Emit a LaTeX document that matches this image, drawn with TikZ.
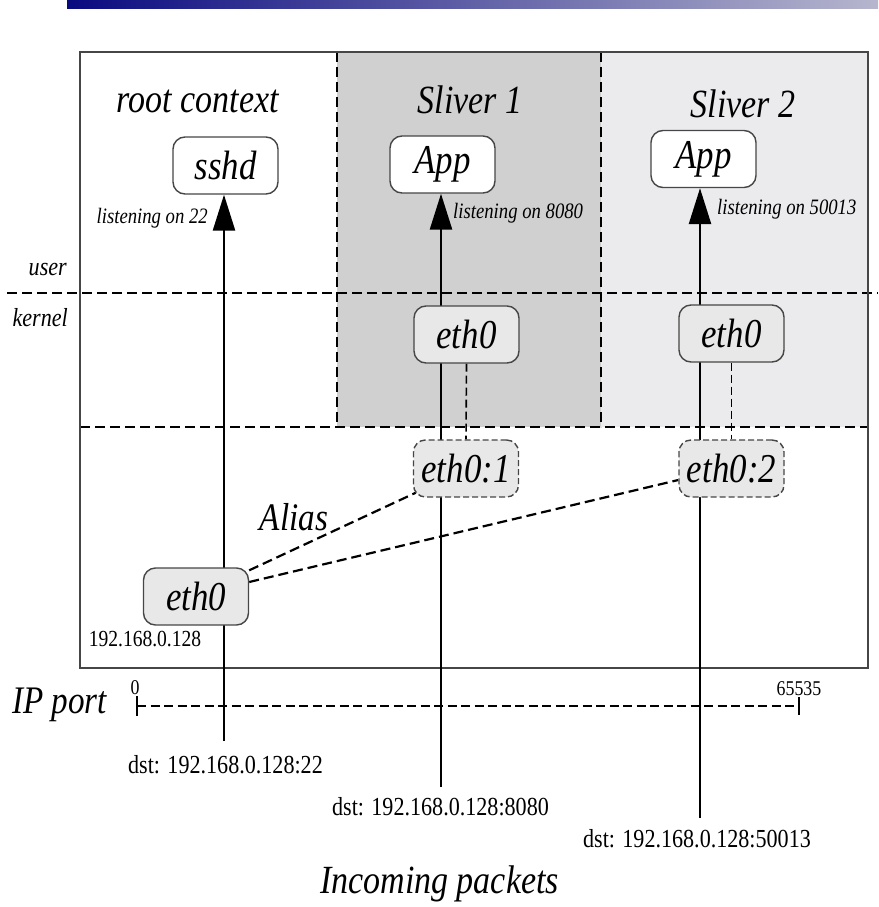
\documentclass[tikz,border=0pt]{standalone}
\usepackage{fontspec}
\setmainfont{Liberation Serif}[FakeStretch=0.85]
\usetikzlibrary{arrows.meta,calc}
\pgfdeclarelayer{bg}
\pgfdeclarelayer{wires}
\pgfsetlayers{bg,wires,main}
\definecolor{sliverA}{RGB}{208,208,208}
\definecolor{sliverB}{RGB}{235,235,238}
\definecolor{ifacefill}{RGB}{232,232,232}
\definecolor{frame}{RGB}{70,70,70}
\definecolor{barleft}{RGB}{10,10,128}
\definecolor{barright}{RGB}{182,182,206}
\newcommand{\fs}[1]{\fontsize{#1}{#1}\selectfont}
\begin{document}
\begin{tikzpicture}[x=1pt,y=-1pt,
  procbox/.style={draw=frame,line width=1.4pt,rounded corners=12pt,fill=white,
    minimum width=105pt,minimum height=57pt,inner sep=0pt,font=\fs{41}\itshape},
  ifacebox/.style={procbox,fill=ifacefill},
  aliasbox/.style={ifacebox,dash pattern=on 6pt off 3pt},
  title/.style={font=\fs{40}\itshape,anchor=base,inner sep=0pt},
  small/.style={font=\fs{22}\itshape,inner sep=0pt},
  addr/.style={font=\fs{26},anchor=base,inner sep=0pt},
  divider/.style={line width=2.2pt,dash pattern=on 10pt off 5pt},
  flow/.style={line width=2.6pt,-{Triangle[length=36pt,width=22pt]}},
  aliaslink/.style={line width=2.2pt,dash pattern=on 10pt off 5pt},
  pairlink/.style={line width=1.6pt,dash pattern=on 8pt off 4pt}]
\useasboundingbox (0,0) rectangle (878,907);

% title bar
\shade[left color=barleft,right color=barright] (67,0) rectangle (878,9);

% sliver areas and frame
\begin{pgfonlayer}{bg}
  \fill[sliverA] (337,52) rectangle (601,427);
  \fill[sliverB] (601,52) rectangle (868,427);
  \draw[divider] (337,52) -- (337,427);
  \draw[divider] (601,52) -- (601,427);
  \draw[divider] (80,427) -- (868,427);
  \draw[divider] (7,293) -- (878,293);
  \draw[frame,line width=1.6pt] (80,52) rectangle (868,668);
\end{pgfonlayer}

% context titles
\node[title] (troot) at (198,112) {root context};
\node[title] (tsl1) at (470,113) {Sliver 1};
\node[title] (tsl2) at (743,117) {Sliver 2};

% processes
\node[procbox] (sshd) at (225.5,165.5) {sshd};
\node[procbox] (app1) at (442.5,164.5) {App};
\node[procbox] (app2) at (703.5,159) {App};

% interfaces
\node[ifacebox] (eroot) at (196,596.5) {eth0};
\node[ifacebox] (e1) at (466.5,334.5) {eth0};
\node[ifacebox] (e2) at (731.5,333.5) {eth0};
\node[aliasbox] (a1) at (466,468.5) {eth0:1};
\node[aliasbox] (a2) at (731.5,468.5) {eth0:2};

% labels
\node[small,anchor=base east] (l22) at (208,223) {listening on 22};
\node[small,anchor=base west] (l8080) at (453,218) {listening on 8080};
\node[small,anchor=base west] (l50013) at (717,214) {listening on 50013};
\node[font=\fs{26}\itshape,anchor=base east,inner sep=0pt] (luser) at (67,275) {user};
\node[font=\fs{26}\itshape,anchor=base east,inner sep=0pt] (lkernel) at (68,326) {kernel};
\node[title,font=\fs{39}\itshape] (lalias) at (294,530) {Alias};
\node[font=\fs{23},anchor=base,inner sep=0pt] (lip) at (145,646) {192.168.0.128};

% port axis
\node[title,anchor=base west,font=\fs{39}\itshape] (lport) at (12,713) {IP port};
\coordinate (ax0) at (137,706);
\coordinate (ax1) at (799,706);
\node[font=\fs{21},anchor=base,inner sep=0pt] (n0) at (135,694) {0};
\node[font=\fs{21},anchor=base,inner sep=0pt] (nmax) at (799,695) {65535};
\draw[line width=1.8pt,dash pattern=on 9pt off 4.5pt] (ax0) -- (ax1);
\draw[line width=1.5pt] ($(ax0)+(0,-10)$) -- ($(ax0)+(0,10)$);
\draw[line width=1.5pt] ($(ax1)+(0,-9)$) -- ($(ax1)+(0,9)$);

% packet sources
\coordinate (p1) at (224,741);
\coordinate (p2) at (441,787);
\coordinate (p3) at (700,818);
\node[addr] (d1) at (225.5,773) {dst: 192.168.0.128:22};
\node[addr] (d2) at (440.5,815) {dst: 192.168.0.128:8080};
\node[addr] (d3) at (697,847) {dst: 192.168.0.128:50013};
\node[title] (tin) at (439.5,893) {Incoming packets};

% packet paths
\begin{pgfonlayer}{wires}
  \draw[flow] (p1) -- (p1 |- sshd.south);
  \draw[flow] (p2) -- (p2 |- app1.south);
  \draw[flow] (p3) -- (p3 |- app2.south);
  \draw[pairlink] (e1.south) -- (a1.north);
  \draw[pairlink] (e2.south) -- (a2.north);
  \draw[aliaslink] ($(eroot.north east)+(0,3)$) -- ($(a1.south west)+(3,-5)$);
  \draw[aliaslink] ($(eroot.east)+(0,-14.5)$) -- ($(a2.west)+(0,11.5)$);
\end{pgfonlayer}
\end{tikzpicture}
\end{document}
